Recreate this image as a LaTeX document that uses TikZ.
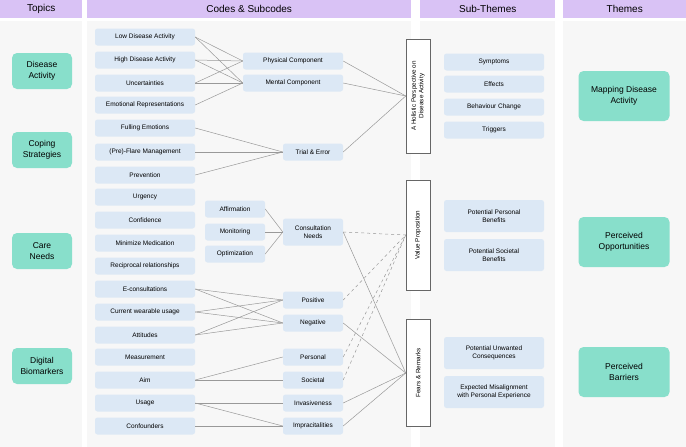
\documentclass[tikz,border=0pt]{standalone}
\usepackage{fontspec}
\setmainfont{Liberation Sans}
\begin{document}
\begin{tikzpicture}[x=1pt,y=-1pt,
 hdr/.style={fill=hdrc,draw=none,minimum height=18pt,anchor=north west,font=\fontsize{10}{12}\selectfont},
 col/.style={fill=colc,draw=none},
 big/.style={fill=tealc,rounded corners=5pt,minimum width=60pt,minimum height=36pt,align=center,font=\fontsize{8.5}{11}\selectfont},
 theme/.style={big,minimum width=91pt,minimum height=50pt},
 code/.style={fill=codec,rounded corners=2.5pt,minimum width=100pt,minimum height=17pt,inner sep=1pt,font=\fontsize{6.5}{8}\selectfont,align=center},
 sub/.style={code,minimum width=60pt},
 vbox/.style={draw=gray!80!black,fill=white,line width=0.5pt,minimum width=24pt,rotate=90,align=center,font=\fontsize{6.3}{7.5}\selectfont,inner sep=1pt},
 ln/.style={draw=gray!80,line width=0.5pt},
 dl/.style={ln,dashed}]
\definecolor{hdrc}{HTML}{D9C2F5}
\definecolor{colc}{HTML}{F7F7F7}
\definecolor{tealc}{HTML}{88DFCB}
\definecolor{codec}{HTML}{DCE8F5}
\useasboundingbox (0,0) rectangle (686,447);
\fill[white] (0,0) rectangle (686,447);
\fill[colc] (0,21) rectangle (82,447);
\fill[colc] (87,21) rectangle (411,447);
\fill[colc] (420,21) rectangle (555,447);
\fill[colc] (563,21) rectangle (686,447);
\node[hdr,minimum width=82pt] (h1) at (0,0) {Topics};
\node[hdr,minimum width=324pt] (h2) at (87,0) {Codes \& Subcodes};
\node[hdr,minimum width=135pt] (h3) at (420,0) {Sub-Themes};
\node[hdr,minimum width=123pt] (h4) at (563,0) {Themes};
% topics
\node[big] (t1) at (42,71) {Disease\\Activity};
\node[big] (t2) at (42,150) {Coping\\Strategies};
\node[big] (t3) at (42,251) {Care\\Needs};
\node[big] (t4) at (42,366) {Digital\\Biomarkers};
% themes
\node[theme] (th1) at (624,96) {Mapping Disease\\Activity};
\node[theme] (th2) at (624,242) {Perceived\\Opportunities};
\node[theme] (th3) at (624,372) {Perceived\\Barriers};
% codes
\node[code] (c1) at (145,37) {Low Disease Activity};
\node[code] (c2) at (145,60) {High Disease Activity};
\node[code] (c3) at (145,83) {Uncertainties};
\node[code] (c4) at (145,105) {Emotional Representations};
\node[code] (c5) at (145,128) {Fulling Emotions};
\node[code] (c6) at (145,152) {(Pre)-Flare Management};
\node[code] (c7) at (145,175) {Prevention};
\node[code] (c8) at (145,197) {Urgency};
\node[code] (c9) at (145,220) {Confidence};
\node[code] (c10) at (145,243) {Minimize Medication};
\node[code] (c11) at (145,266) {Reciprocal relationships};
\node[code] (c12) at (145,289) {E-consultations};
\node[code] (c13) at (145,312) {Current wearable usage};
\node[code] (c14) at (145,335) {Attitudes};
\node[code] (c15) at (145,357) {Measurement};
\node[code] (c16) at (145,380) {Aim};
\node[code] (c17) at (145,403) {Usage};
\node[code] (c18) at (145,426) {Confounders};
% subcodes
\node[code] (phy) at (293,61) {Physical Component};
\node[code] (men) at (293,83) {Mental Component};
\node[sub] (tri) at (313,152) {Trial \& Error};
\node[sub] (aff) at (235,209) {Affirmation};
\node[sub] (mon) at (235,232) {Monitoring};
\node[sub] (opt) at (235,254) {Optimization};
\node[sub,minimum height=27pt] (con) at (313,232) {Consultation\\Needs};
\node[sub] (pos) at (313,300) {Positive};
\node[sub] (neg) at (313,323) {Negative};
\node[sub] (per) at (313,357) {Personal};
\node[sub] (soc) at (313,380) {Societal};
\node[sub] (inv) at (313,403) {Invasiveness};
\node[sub] (imp) at (313,426) {Impracitalities};
% vertical boxes
\node[vbox,minimum height=24pt,minimum width=114pt] (hol) at (418,96) {A Holistic Perspective on\\Disease Activity};
\node[vbox,minimum height=24pt,minimum width=110pt] (val) at (418,235) {Value Proposition};
\node[vbox,minimum height=24pt,minimum width=107pt] (fea) at (418,373) {Fears \& Remarks};
% sub-themes
\node[code] (s1) at (494,62) {Symptoms};
\node[code] (s2) at (494,84) {Effects};
\node[code] (s3) at (494,107) {Behaviour Change};
\node[code] (s4) at (494,130) {Triggers};
\node[code,minimum height=32pt] (s5) at (494,216) {Potential Personal\\Benefits};
\node[code,minimum height=32pt] (s6) at (494,255) {Potential Societal\\Benefits};
\node[code,minimum height=32pt] (s7) at (494,353) {Potential Unwanted\\Consequences};
\node[code,minimum height=32pt] (s8) at (494,392) {Expected Misalignment\\with Personal Experience};
% connectors
\foreach \a/\b in {c1/phy,c1/men,c2/phy,c2/men,c3/phy,c3/men,c4/men,c5/tri,c6/tri,c7/tri,
 aff/con,mon/con,opt/con,c12/pos,c12/neg,c13/pos,c13/neg,c14/pos,c14/neg,c16/per,c16/soc,
 c17/inv,c17/imp,c18/imp}
 \draw[ln] (\a.east) -- (\b.west);
\foreach \a in {phy,men,tri} \draw[ln] (\a.east) -- (hol.north);
\foreach \a in {con,neg,inv,imp} \draw[ln] (\a.east) -- (fea.north);
\foreach \a in {con,pos,per,soc} \draw[dl] (\a.east) -- (val.north);
\end{tikzpicture}
\end{document}
